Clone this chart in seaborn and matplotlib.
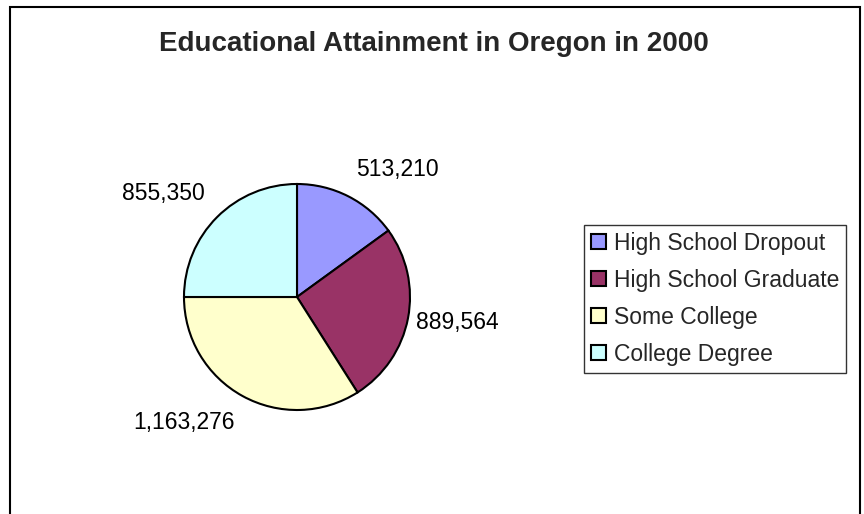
import matplotlib
matplotlib.use("Agg")
import numpy as np
import matplotlib.pyplot as plt
import seaborn as sns
from matplotlib.patches import Patch, Rectangle

categories = ["High School Dropout", "High School Graduate", "Some College", "College Degree"]
counts = [513210, 889564, 1163276, 855350]
colors = ["#9999FF", "#993366", "#FFFFCC", "#CCFFFF"]
title = "Educational Attainment in Oregon in 2000"

sns.set_theme(style="white")
plt.rcParams["font.family"] = ["Liberation Sans", "DejaVu Sans"]

W, H, DPI = 864, 514, 100
fig = plt.figure(figsize=(W / DPI, H / DPI), dpi=DPI)
fig.patch.set_facecolor("white")

# outer chart frame (bottom edge runs off the picture)
fig.patches.append(Rectangle((10 / W, -0.1), 850 / W, 1.1 - 7 / H,
                             transform=fig.transFigure, fill=False,
                             edgecolor="black", linewidth=1.5))

# pie axes: centre (297, 297) px, radius 113 px
cx, cy, r, lim = 297, 297, 113, 1.8
side = 2 * lim * r
ax = fig.add_axes([(cx - side / 2) / W, (H - cy - side / 2) / H, side / W, side / H])
wedges, texts = ax.pie(counts, colors=colors, startangle=90, counterclock=False,
                       labels=[f"{v:,}" for v in counts],
                       wedgeprops=dict(edgecolor="black", linewidth=1.5),
                       textprops=dict(fontsize=16.5, color="black"))

# excel-like label placement: box corner nearest the pie sits on the mid-angle
for w, t in zip(wedges, texts):
    theta = np.deg2rad((w.theta1 + w.theta2) / 2)
    s, c = np.sin(theta), np.cos(theta)
    t.set_ha("left" if c > 0 else "right")
    if abs(s) < 0.5:
        d = 1.07
        t.set_va("center_baseline")
    else:
        d = 1.15
        t.set_va("bottom" if s > 0 else "top")
    t.set_position((d * c, d * s))

ax.set_xlim(-lim, lim)
ax.set_ylim(-lim, lim)
ax.set_aspect("equal")
ax.axis("off")

fig.text(434 / W, 1 - 51 / H, title, ha="center", va="baseline",
         fontsize=20, fontweight="bold")

handles = [Patch(facecolor=c, edgecolor="black", linewidth=1.5) for c in colors]
leg = fig.legend(handles, categories, loc="upper left",
                 bbox_to_anchor=(584 / W, 1 - 225 / H), borderaxespad=0,
                 fontsize=16.5, frameon=True, fancybox=False,
                 handlelength=0.65, handleheight=0.65, handletextpad=0.35,
                 labelspacing=0.61, borderpad=0.3)
leg.get_frame().set_edgecolor("black")
leg.get_frame().set_linewidth(1.0)

fig.savefig("out.png", dpi=DPI, facecolor="white")
